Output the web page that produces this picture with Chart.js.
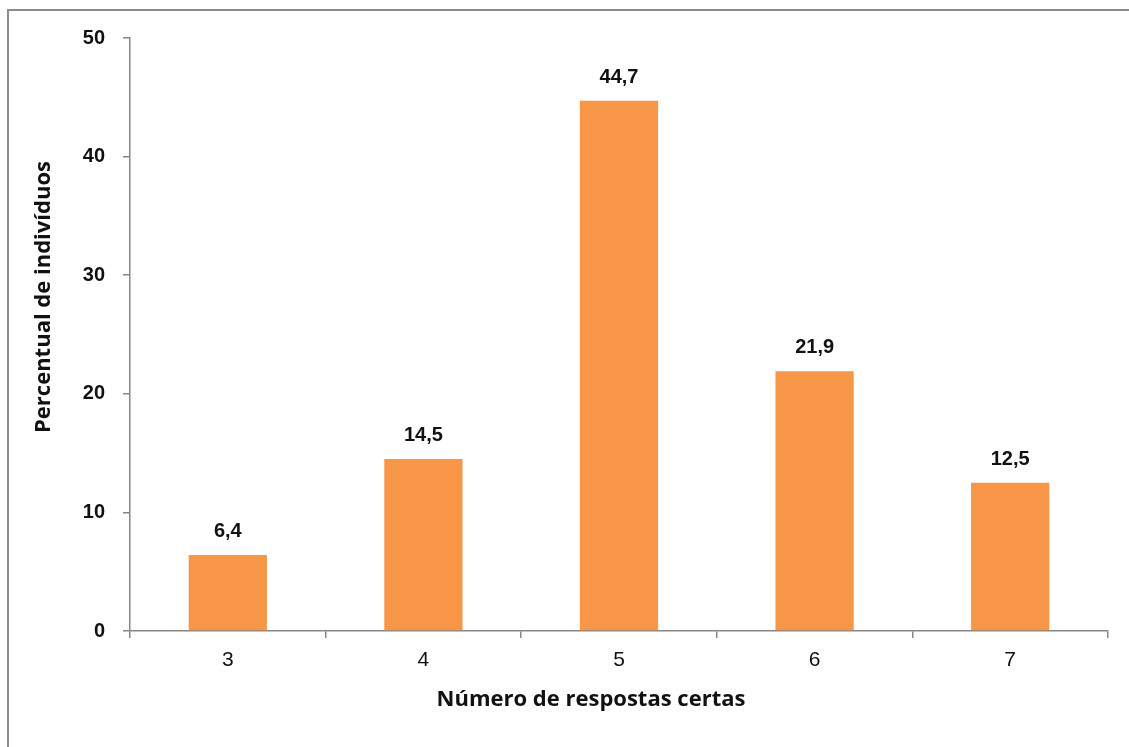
<!DOCTYPE html>
<html>
<head>
<meta charset="utf-8">
<script src="https://cdn.jsdelivr.net/npm/chart.js@4/dist/chart.umd.min.js"></script>
<style>
  html, body { margin: 0; padding: 0; background: #ffffff; overflow: hidden; }
  #wrap { position: relative; width: 1129px; height: 747px; }
  #frame { position: absolute; left: 7px; top: 9px; width: 1140px; height: 760px; border: 2px solid #8c8c8c; box-sizing: border-box; pointer-events: none; }
  canvas { position: absolute; left: 0; top: 0; }
</style>
</head>
<body>
<div id="wrap">
  <canvas id="c" width="1129" height="747"></canvas>
  <div id="frame"></div>
</div>
<script>
const categories = ["3", "4", "5", "6", "7"];
const percentValues = [6.4, 14.5, 44.7, 21.9, 12.5];
const valueLabels = ["6,4", "14,5", "44,7", "21,9", "12,5"];
const yTicks = [0, 10, 20, 30, 40, 50];
const xTitle = "Número de respostas certas";
const yTitle = "Percentual de indivíduos";

const barColor = "#F79646";
const axisColor = "#868686";

const labelPlugin = {
  id: "labelsAndTitles",
  afterDatasetsDraw(chart) {
    const ctx = chart.ctx;
    const meta = chart.getDatasetMeta(0);
    ctx.save();
    ctx.fillStyle = "#111";
    ctx.font = "bold 20px 'Liberation Sans'";
    ctx.textAlign = "center";
    ctx.textBaseline = "alphabetic";
    meta.data.forEach((bar, i) => {
      ctx.fillText(valueLabels[i], bar.x, bar.y - 18);
    });
    ctx.font = "bold 22px 'Open Sans'";
    ctx.textBaseline = "middle";
    ctx.fillText(xTitle, 591, 700);
    ctx.translate(44, 297);
    ctx.rotate(-Math.PI / 2);
    ctx.fillText(yTitle, 0, 0);
    ctx.restore();
  }
};

new Chart(document.getElementById("c"), {
  type: "bar",
  data: {
    labels: categories,
    datasets: [{
      data: percentValues,
      backgroundColor: barColor,
      borderWidth: 0,
      barPercentage: 0.4,
      categoryPercentage: 1.0
    }]
  },
  options: {
    responsive: false,
    animation: false,
    devicePixelRatio: 1,
    layout: { padding: { top: 38, right: 21, bottom: 0, left: 0 } },
    plugins: { legend: { display: false }, tooltip: { enabled: false } },
    scales: {
      x: {
        offset: true,
        afterFit(scale) { scale.height = 116; },
        grid: { offset: true, drawOnChartArea: false, drawTicks: true, tickLength: 7, color: axisColor, lineWidth: 1.5 },
        border: { display: true, color: axisColor, width: 1.5 },
        ticks: { color: "#111", font: { family: "'Liberation Sans'", size: 21 }, padding: 10 }
      },
      y: {
        min: 0,
        max: 50,
        afterFit(scale) { scale.width = 130; },
        afterBuildTicks(scale) { scale.ticks = yTicks.map(v => ({ value: v })); },
        grid: { drawOnChartArea: false, drawTicks: true, tickLength: 7, color: axisColor, lineWidth: 1.5 },
        border: { display: true, color: axisColor, width: 1.5 },
        ticks: { color: "#111", font: { family: "'Liberation Sans'", size: 20, weight: "bold" }, padding: 18 }
      }
    }
  },
  plugins: [labelPlugin]
});
</script>
</body>
</html>
